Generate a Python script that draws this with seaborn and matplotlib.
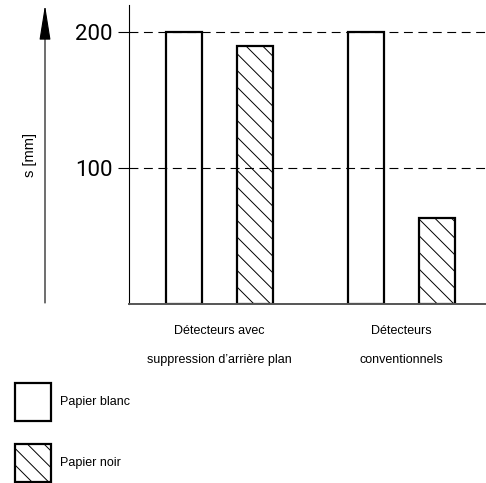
import pandas as pd
import matplotlib
matplotlib.use("Agg")
import matplotlib.pyplot as plt
import matplotlib.patches as mpatches
import seaborn as sns

# data
groupes = ["Détecteurs avec\nsuppression d’arrière plan", "Détecteurs\nconventionnels"]
papiers = ["Papier blanc", "Papier noir"]
s_blanc = [200, 200]
s_noir = [190, 63]
yticks = [100, 200]

df = pd.DataFrame({
    "groupe": groupes * 2,
    "papier": [papiers[0]] * 2 + [papiers[1]] * 2,
    "s": s_blanc + s_noir,
})

sns.set_theme(style="white")
plt.rcParams["font.family"] = ["Liberation Sans", "DejaVu Sans"]
plt.rcParams["text.color"] = "black"
plt.rcParams["xtick.color"] = "black"
plt.rcParams["ytick.color"] = "black"
plt.rcParams["hatch.linewidth"] = 0.7

fig = plt.figure(figsize=(4.86, 4.83), dpi=100)
ax = fig.add_axes([129 / 486, 1 - 304 / 483, 357 / 486, 299 / 483])

sns.barplot(data=df, x="groupe", y="s", hue="papier", ax=ax,
            palette=["white", "white"], edgecolor="black", linewidth=1.6,
            width=0.78, gap=0.49, legend=False)

for p in ax.containers[0]:
    p.set_facecolor("none")
for p in ax.containers[1]:
    p.set_facecolor("none")
    p.set_hatch("\\\\")

ax.set_xlim(-0.497, 1.464)
ax.set_ylim(0, 220)
ax.set_xlabel("")
ax.set_ylabel("")
ax.set_yticks(yticks)
ax.set_yticklabels([str(v) for v in yticks], fontsize=16,
                   family="Roboto", fontweight="normal", color="black")
ax.tick_params(axis="y", length=8, width=0.8, direction="out", pad=4, color="black", left=True)
ax.tick_params(axis="x", length=0, pad=15, labelsize=9, labelcolor="black")
for lbl in ax.get_xticklabels():
    lbl.set_linespacing(2.9)

ax.yaxis.grid(True, linestyle=(0, (8, 5)), color="black", linewidth=0.8)
ax.set_axisbelow(False)

sns.despine(ax=ax, top=True, right=True)
ax.spines["left"].set_color("black")
ax.spines["left"].set_linewidth(0.8)
ax.spines["bottom"].set_color("#555555")
ax.spines["bottom"].set_linewidth(1.4)

# arrow on the left
ax.annotate("", xy=(45 / 486, 1 - 5 / 483), xytext=(45 / 486, 1 - 303 / 483),
            xycoords="figure fraction", textcoords="figure fraction",
            annotation_clip=False,
            arrowprops=dict(arrowstyle="-|>,head_length=2.2,head_width=0.35",
                            lw=0.8, color="black", mutation_scale=10,
                            shrinkA=0, shrinkB=0))
fig.text(30 / 486, 1 - 155 / 483, "s [mm]", rotation=90, ha="center", va="center",
         fontsize=10.5, color="black")

handles = [
    mpatches.Patch(facecolor="white", edgecolor="black", linewidth=1.6),
    mpatches.Patch(facecolor="white", edgecolor="black", linewidth=1.6, hatch="\\\\"),
]
fs = 9
fig.legend(handles, papiers, loc="upper left",
           bbox_to_anchor=(15 / 486, 1 - 383 / 483), frameon=False,
           fontsize=fs, borderpad=0, borderaxespad=0,
           handlelength=2.88, handleheight=4.3, labelspacing=1.84,
           handletextpad=0.7)

fig.savefig("out.png", dpi=100)
